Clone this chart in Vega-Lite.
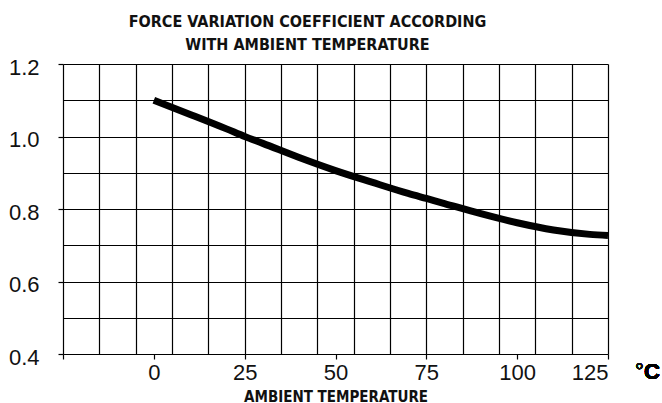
{
  "$schema": "https://vega.github.io/schema/vega-lite/v6.json",
  "width": 545,
  "height": 290,
  "autosize": "none",
  "padding": {"left": 63, "top": 64, "right": 54, "bottom": 49},
  "background": "white",
  "config": {"view": {"stroke": null}},
  "title": {
    "text": ["FORCE VARIATION COEFFICIENT ACCORDING", "WITH AMBIENT TEMPERATURE"],
    "font": "DejaVu Sans Condensed, Liberation Sans",
    "fontWeight": "bold",
    "fontSize": 16,
    "lineHeight": 23,
    "color": "#111",
    "anchor": "middle",
    "dx": -28,
    "offset": 3
  },
  "data": {
    "values": [
      {"temp": 0, "coef": 1.1},
      {"temp": 10, "coef": 1.061},
      {"temp": 20, "coef": 1.021},
      {"temp": 25, "coef": 1.0},
      {"temp": 30, "coef": 0.981},
      {"temp": 40, "coef": 0.942},
      {"temp": 50, "coef": 0.906},
      {"temp": 60, "coef": 0.874},
      {"temp": 70, "coef": 0.843},
      {"temp": 75, "coef": 0.829},
      {"temp": 80, "coef": 0.815},
      {"temp": 90, "coef": 0.787},
      {"temp": 100, "coef": 0.762},
      {"temp": 110, "coef": 0.742},
      {"temp": 120, "coef": 0.73},
      {"temp": 125, "coef": 0.727}
    ]
  },
  "layer": [
    {
      "mark": {"type": "line", "color": "#000", "strokeWidth": 7, "interpolate": "monotone", "strokeCap": "butt"},
      "encoding": {
        "x": {
          "field": "temp", "type": "quantitative",
          "scale": {"domain": [-25, 125], "nice": false, "zero": false},
          "axis": {
            "orient": "top", "values": [-25, -15, -5, 5, 15, 25, 35, 45, 55, 65, 75, 85, 95, 105, 115, 125],
            "grid": true, "gridColor": "#000", "gridWidth": 1.2, "gridOpacity": 1,
            "labels": false, "ticks": false, "domain": false, "title": null
          }
        },
        "y": {
          "field": "coef", "type": "quantitative",
          "scale": {"domain": [0.4, 1.2], "nice": false, "zero": false},
          "axis": {
            "orient": "right", "values": [0.4, 0.5, 0.6, 0.7, 0.8, 0.9, 1.0, 1.1, 1.2],
            "grid": true, "gridColor": "#000", "gridWidth": 1.2, "gridOpacity": 1,
            "labels": false, "ticks": false, "domain": false, "title": null
          }
        }
      }
    },
    {
      "mark": {"type": "text", "text": "°", "font": "Liberation Sans", "fontSize": 22, "align": "left", "baseline": "top", "dx": 27, "dy": 8, "color": "#111"},
      "encoding": {
        "x": {
          "datum": 125, "type": "quantitative",
          "axis": {
            "orient": "bottom", "values": [-25, 0, 25, 50, 75, 100, 125],
            "labelExpr": "datum.value == -25 ? '' : datum.label",
            "grid": false, "domain": false, "ticks": true, "tickSize": 5, "tickColor": "#000", "tickWidth": 1.2,
            "labelFont": "Liberation Sans", "labelFontSize": 22, "labelColor": "#111", "labelPadding": 3,
            "title": "AMBIENT TEMPERATURE", "titleFont": "DejaVu Sans Condensed, Liberation Sans", "titleFontWeight": "bold",
            "titleFontSize": 15, "titleColor": "#111", "titlePadding": 6
          }
        },
        "y": {
          "datum": 0.4, "type": "quantitative",
          "axis": {
            "orient": "left", "values": [0.4, 0.6, 0.8, 1.0, 1.2], "format": ".1f",
            "grid": false, "domain": false, "ticks": true, "tickSize": 5, "tickColor": "#000", "tickWidth": 1.2,
            "labelFont": "Liberation Sans", "labelFontSize": 22, "labelColor": "#111", "labelPadding": 19,
            "labelOffset": 3,
            "title": null
          }
        }
      }
    },
    {
      "mark": {"type": "text", "text": "C", "font": "Liberation Sans", "fontWeight": "bold", "fontSize": 22, "align": "left", "baseline": "top", "dx": 36, "dy": 8, "color": "#000"},
      "encoding": {
        "x": {"datum": 125, "type": "quantitative", "axis": null},
        "y": {"datum": 0.4, "type": "quantitative", "axis": null}
      }
    }
  ],
  "resolve": {"axis": {"x": "independent", "y": "independent"}}
}
